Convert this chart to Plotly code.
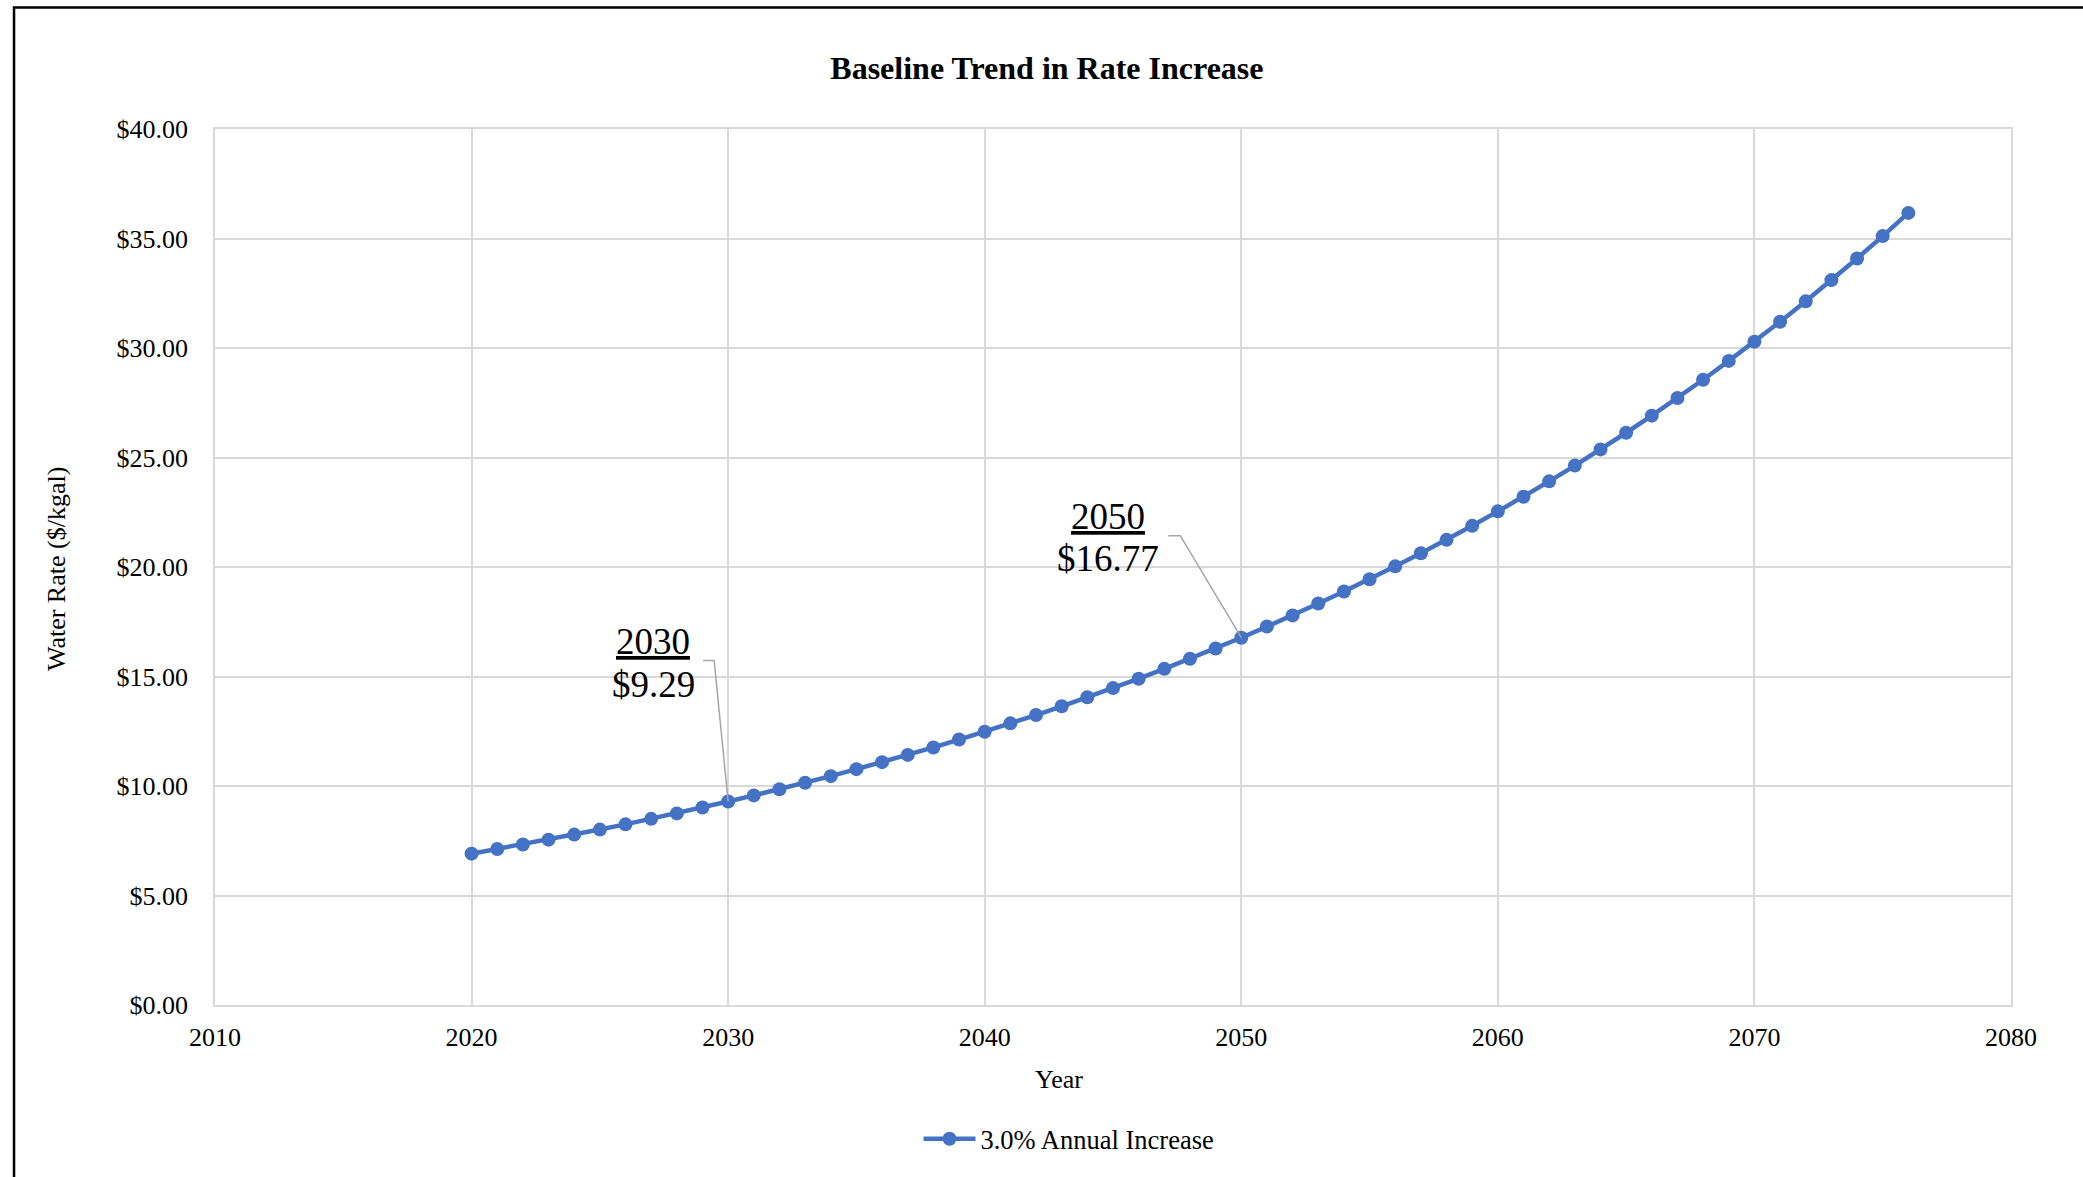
import plotly.graph_objects as go

years = list(range(2020, 2077))
rates = [6.91, 7.12, 7.33, 7.55, 7.78, 8.01, 8.25, 8.50, 8.75, 9.02,
         9.29, 9.57, 9.85, 10.15, 10.45, 10.77, 11.09, 11.42, 11.76, 12.12,
         12.48, 12.86, 13.24, 13.64, 14.05, 14.47, 14.90, 15.35, 15.81, 16.28,
         16.77, 17.28, 17.79, 18.33, 18.88, 19.44, 20.03, 20.63, 21.24, 21.88,
         22.54, 23.21, 23.91, 24.63, 25.37, 26.13, 26.91, 27.72, 28.55, 29.41,
         30.29, 31.20, 32.13, 33.10, 34.09, 35.11, 36.17]
series_name = "3.0% Annual Increase"
callout_years = [2030, 2050]
title_text = "Baseline Trend in Rate Increase"
x_title = "Year"
y_title = "Water Rate ($/kgal)"

FONT = "Liberation Serif, Times New Roman, serif"
BLUE = "#4472C4"
GRID = "#D9D9D9"

fig = go.Figure()
fig.add_trace(go.Scatter(
    x=years, y=rates, mode="lines+markers", name=series_name,
    line=dict(color=BLUE, width=4.5),
    marker=dict(color=BLUE, size=14),
))

# callouts: text offsets (px) and leader path in px relative to the point
callout_style = {
    2030: dict(xs=-75, ys_year=160, ys_val=117, path="M 0,0 L -14,141 L -25,141"),
    2050: dict(xs=-133, ys_year=121, ys_val=79, path="M 0,0 L -61,102 L -73,102"),
}
for cy in callout_years:
    i = years.index(cy)
    st = callout_style[cy]
    fig.add_annotation(
        x=years[i], y=rates[i], xref="x", yref="y",
        text=f"<u>{years[i]}</u>", showarrow=False,
        xshift=st["xs"], yshift=st["ys_year"], yanchor="middle",
        font=dict(family=FONT, size=37, color="black"), align="center",
    )
    fig.add_annotation(
        x=years[i], y=rates[i], xref="x", yref="y",
        text=f"${rates[i]:.2f}", showarrow=False,
        xshift=st["xs"], yshift=st["ys_val"], yanchor="middle",
        font=dict(family=FONT, size=37, color="black"), align="center",
    )
    fig.add_shape(
        type="path", xref="x", yref="y", xsizemode="pixel", ysizemode="pixel",
        xanchor=years[i], yanchor=rates[i], path=st["path"],
        line=dict(color="#A6A6A6", width=1.5),
    )

# axis titles
fig.add_annotation(text=x_title, xref="paper", yref="paper", x=0.47, y=-0.0845,
                   showarrow=False, yanchor="middle", xanchor="center",
                   font=dict(family=FONT, size=26, color="black"))
fig.add_annotation(text=y_title, xref="paper", yref="paper", x=-0.0885, y=0.4977,
                   showarrow=False, yanchor="middle", xanchor="center", textangle=-90,
                   font=dict(family=FONT, size=26, color="black"))

# outer frame
fig.add_shape(type="rect", xref="paper", yref="paper",
              x0=-0.1119, x1=1.3, y0=-0.5, y1=1.1387,
              line=dict(color="black", width=2.5), layer="below")

fig.update_layout(
    width=2083, height=1177,
    margin=dict(l=215, r=72, t=129, b=172),
    paper_bgcolor="white", plot_bgcolor="white",
    font=dict(family=FONT, size=26, color="black"),
    title=dict(text=f"<b>{title_text}</b>", x=0.5026, xref="container",
               y=1 - 68 / 1177, yref="container", yanchor="middle", xanchor="center",
               font=dict(family=FONT, size=32, color="black")),
    showlegend=True,
    legend=dict(orientation="h", x=0.4755, xanchor="center", y=-0.153, yanchor="middle",
                font=dict(family=FONT, size=26.5, color="black"), itemwidth=52),
    xaxis=dict(range=[2010, 2080], dtick=10, tick0=2010, showgrid=True, gridcolor=GRID,
               gridwidth=1.5, showline=True, linecolor=GRID, linewidth=1.5, mirror=True,
               zeroline=False, ticks="", ticklabelstandoff=8,
               tickfont=dict(family=FONT, size=26, color="black")),
    yaxis=dict(range=[0, 40], dtick=5, showgrid=True, gridcolor=GRID, gridwidth=1.5,
               showline=True, linecolor=GRID, linewidth=1.5, mirror=True,
               zeroline=False, ticks="", tickprefix="$", tickformat=".2f",
               ticklabelstandoff=20,
               tickfont=dict(family=FONT, size=26, color="black")),
)

fig.write_html("out.html")
